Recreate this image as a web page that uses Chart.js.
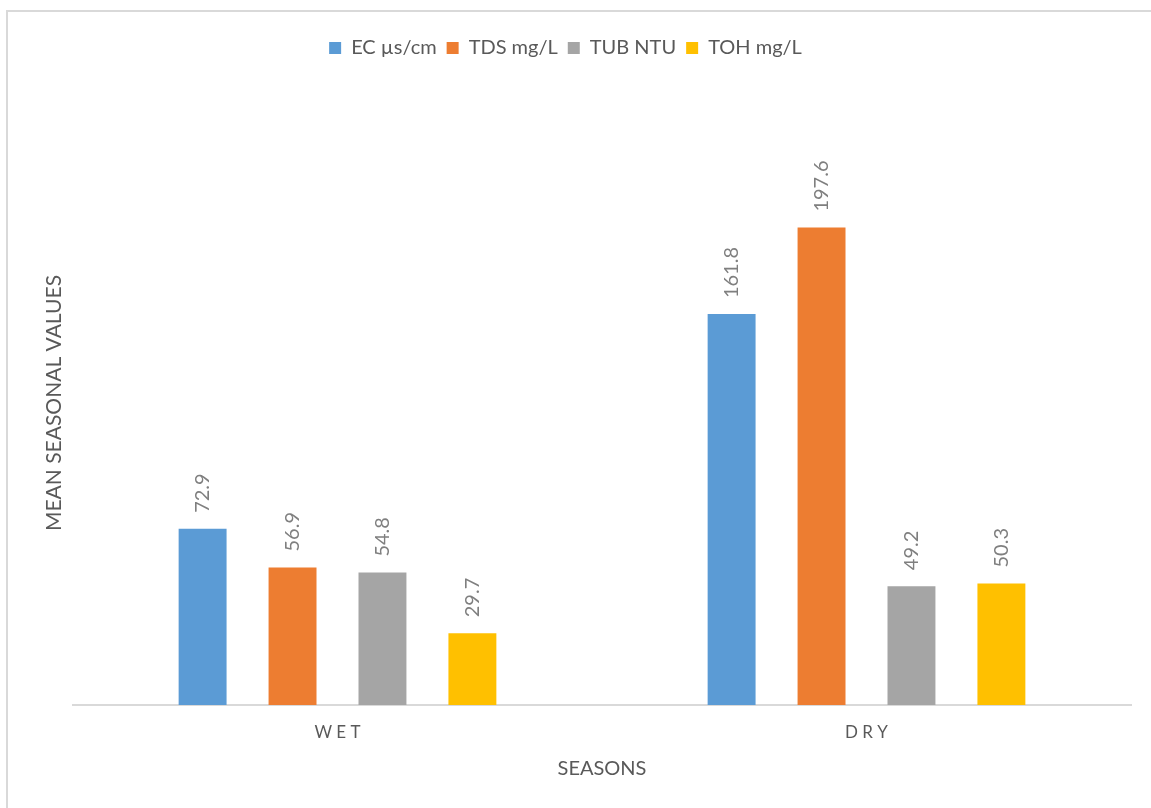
<!DOCTYPE html>
<html>
<head>
<meta charset="utf-8">
<script src="https://cdn.jsdelivr.net/npm/chart.js@4"></script>
<style>
  html, body { margin: 0; padding: 0; background: #fff; }
  #wrap { width: 1151px; height: 808px; }
</style>
</head>
<body>
<div id="wrap"><canvas id="barChart" width="1151" height="808"></canvas></div>
<script>
const seasons = ['WET', 'DRY'];
const ecValues = [72.9, 161.8];
const tdsValues = [56.9, 197.6];
const tubValues = [54.8, 49.2];
const tohValues = [29.7, 50.3];
const seriesNames = ['EC µs/cm', 'TDS mg/L', 'TUB NTU', 'TOH mg/L'];
const seriesColors = ['#5B9BD5', '#ED7D31', '#A5A5A5', '#FFC000'];

const FONT = 'Lato';

// frame round the chart, like the exported office chart
const framePlugin = {
  id: 'frame',
  beforeDraw(chart) {
    const ctx = chart.ctx;
    ctx.save();
    ctx.fillStyle = '#fff';
    ctx.fillRect(0, 0, chart.width, chart.height);
    ctx.strokeStyle = '#d9d9d9';
    ctx.lineWidth = 2;
    ctx.beginPath();
    ctx.moveTo(7, chart.height);
    ctx.lineTo(7, 11);
    ctx.lineTo(chart.width, 11);
    ctx.stroke();
    ctx.restore();
  }
};

// push the plot down below the legend
const legendSpace = {
  id: 'legendSpace',
  beforeInit(chart) {
    const fit = chart.legend.fit;
    chart.legend.fit = function () {
      fit.bind(chart.legend)();
      this.height += 33;
    };
  }
};

// rotated value labels above each bar
const valueLabels = {
  id: 'valueLabels',
  afterDatasetsDraw(chart) {
    const ctx = chart.ctx;
    ctx.save();
    ctx.font = '20px ' + FONT;
    ctx.fillStyle = '#7f7f7f';
    ctx.textAlign = 'left';
    ctx.textBaseline = 'middle';
    chart.data.datasets.forEach((ds, i) => {
      chart.getDatasetMeta(i).data.forEach((bar, j) => {
        ctx.save();
        ctx.translate(bar.x, bar.y - 16);
        ctx.rotate(-Math.PI / 2);
        ctx.fillText(ds.data[j].toFixed(1), 0, 0);
        ctx.restore();
      });
    });
    ctx.restore();
  }
};

const ctx = document.getElementById('barChart');

new Chart(ctx, {
  type: 'bar',
  data: {
    labels: seasons,
    datasets: [ecValues, tdsValues, tubValues, tohValues].map((vals, i) => ({
      label: seriesNames[i],
      data: vals,
      backgroundColor: seriesColors[i],
      borderWidth: 0,
      categoryPercentage: 0.68,
      barPercentage: 0.533
    }))
  },
  options: {
    responsive: false,
    animation: false,
    layout: { padding: { top: 28, left: 0, right: 20, bottom: 0 } },
    plugins: {
      legend: {
        position: 'top',
        labels: {
          boxWidth: 12,
          boxHeight: 12,
          padding: 10,
          color: '#595959',
          font: { family: FONT, size: 20 }
        }
      },
      tooltip: { enabled: false }
    },
    scales: {
      x: {
        grid: { display: false, drawTicks: false },
        border: { display: true, color: '#d9d9d9', width: 2 },
        ticks: {
          color: '#595959',
          padding: 17,
          font: { family: FONT, size: 17 },
          callback: function (value) {
            return this.getLabelForValue(value).split('').join(' ');
          }
        },
        title: {
          display: true,
          text: 'SEASONS',
          color: '#595959',
          font: { family: FONT, size: 20 },
          padding: { top: 27, bottom: 27 }
        },
        afterFit(scale) { scale.height = 103; }
      },
      y: {
        min: 0,
        max: 250,
        grid: { display: false, drawTicks: false },
        border: { display: false },
        ticks: { display: false },
        title: {
          display: true,
          text: 'MEAN SEASONAL VALUES',
          color: '#595959',
          font: { family: FONT, size: 21 },
          padding: { top: 42, bottom: 0 }
        },
        afterFit(scale) { scale.width = 73; }
      }
    }
  },
  plugins: [framePlugin, legendSpace, valueLabels]
});
</script>
</body>
</html>
